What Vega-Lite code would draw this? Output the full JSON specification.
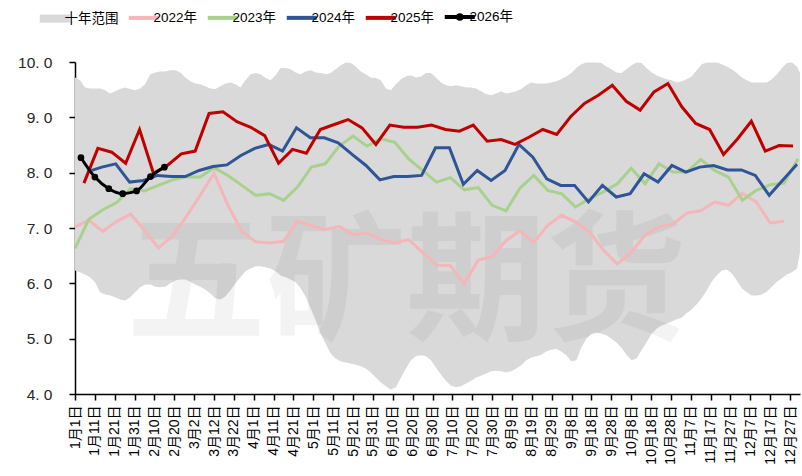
{
"$schema": "https://vega.github.io/schema/vega-lite/v6.json",
"width": 725, "height": 332,
"autosize": {"type": "none"},
"padding": {"left": 75, "top": 62, "right": 2, "bottom": 82},
"background": "white",
"config": {
"view": {"stroke": null},
"axisX": {"title": null, "grid": false, "labelAngle": -90, "labelFont": "Liberation Sans, Noto Sans CJK SC, sans-serif", "labelFontSize": 14, "labelColor": "#000", "labelPadding": 5, "labelOverlap": false, "labelFlush": false, "labelBound": false, "domainColor": "#000", "domainWidth": 1.5, "tickColor": "#000", "tickWidth": 1.5, "tickSize": 6},
"axisY": {"title": null, "grid": false, "labelFont": "Liberation Sans, sans-serif", "labelFontSize": 15.5, "labelColor": "#262626", "labelPadding": 17, "labelFlush": false, "labelBound": false, "labelOverlap": false, "domainColor": "#000", "domainWidth": 1.5, "tickColor": "#000", "tickWidth": 1.5, "tickSize": 6}
},
"datasets": {
"band": [
{"d":1.0,"lo":6.23,"hi":9.72},{"d":3.5,"lo":6.20,"hi":9.67},{"d":6.0,"lo":6.16,"hi":9.54},{"d":8.6,"lo":6.11,"hi":9.52},{"d":11.1,"lo":6.02,"hi":9.52},{"d":13.6,"lo":5.84,"hi":9.52},{"d":16.1,"lo":5.80,"hi":9.49},{"d":18.7,"lo":5.78,"hi":9.43},{"d":21.2,"lo":5.75,"hi":9.47},{"d":23.7,"lo":5.71,"hi":9.51},{"d":26.2,"lo":5.69,"hi":9.54},{"d":28.8,"lo":5.75,"hi":9.51},{"d":31.3,"lo":5.84,"hi":9.49},{"d":33.8,"lo":5.93,"hi":9.52},{"d":36.3,"lo":5.98,"hi":9.60},{"d":38.9,"lo":5.98,"hi":9.78},{"d":41.4,"lo":5.94,"hi":9.81},{"d":43.9,"lo":5.93,"hi":9.83},{"d":46.4,"lo":5.94,"hi":9.83},{"d":49.0,"lo":6.00,"hi":9.85},{"d":51.5,"lo":6.05,"hi":9.85},{"d":54.0,"lo":6.07,"hi":9.81},{"d":56.5,"lo":6.07,"hi":9.72},{"d":59.1,"lo":6.03,"hi":9.65},{"d":61.6,"lo":5.98,"hi":9.61},{"d":64.1,"lo":5.94,"hi":9.60},{"d":66.6,"lo":5.89,"hi":9.56},{"d":69.1,"lo":5.82,"hi":9.52},{"d":71.7,"lo":5.73,"hi":9.51},{"d":74.2,"lo":5.71,"hi":9.56},{"d":76.7,"lo":5.76,"hi":9.61},{"d":79.2,"lo":5.87,"hi":9.63},{"d":81.8,"lo":6.00,"hi":9.60},{"d":84.3,"lo":6.11,"hi":9.54},{"d":86.8,"lo":6.22,"hi":9.67},{"d":89.3,"lo":6.27,"hi":9.78},{"d":91.9,"lo":6.31,"hi":9.80},{"d":94.4,"lo":6.31,"hi":9.78},{"d":96.9,"lo":6.29,"hi":9.71},{"d":99.4,"lo":6.27,"hi":9.67},{"d":102.0,"lo":6.22,"hi":9.76},{"d":104.5,"lo":6.14,"hi":9.89},{"d":107.0,"lo":6.11,"hi":9.89},{"d":109.5,"lo":6.07,"hi":9.87},{"d":112.1,"lo":6.02,"hi":9.81},{"d":114.6,"lo":5.91,"hi":9.78},{"d":117.1,"lo":5.76,"hi":9.83},{"d":119.6,"lo":5.55,"hi":9.85},{"d":122.2,"lo":5.33,"hi":9.81},{"d":124.7,"lo":5.09,"hi":9.80},{"d":127.2,"lo":4.91,"hi":9.78},{"d":129.7,"lo":4.73,"hi":9.80},{"d":132.2,"lo":4.64,"hi":9.87},{"d":134.8,"lo":4.59,"hi":9.94},{"d":137.3,"lo":4.57,"hi":9.99},{"d":139.8,"lo":4.55,"hi":9.98},{"d":142.3,"lo":4.53,"hi":9.92},{"d":144.9,"lo":4.50,"hi":9.83},{"d":147.4,"lo":4.46,"hi":9.78},{"d":149.9,"lo":4.39,"hi":9.72},{"d":152.4,"lo":4.30,"hi":9.71},{"d":155.0,"lo":4.21,"hi":9.67},{"d":157.5,"lo":4.14,"hi":9.52},{"d":160.0,"lo":4.08,"hi":9.49},{"d":162.5,"lo":4.12,"hi":9.60},{"d":165.1,"lo":4.30,"hi":9.69},{"d":167.6,"lo":4.46,"hi":9.74},{"d":170.1,"lo":4.61,"hi":9.76},{"d":172.6,"lo":4.68,"hi":9.72},{"d":175.2,"lo":4.70,"hi":9.74},{"d":177.7,"lo":4.68,"hi":9.80},{"d":180.2,"lo":4.61,"hi":9.80},{"d":182.7,"lo":4.48,"hi":9.72},{"d":185.3,"lo":4.35,"hi":9.63},{"d":187.8,"lo":4.24,"hi":9.58},{"d":190.3,"lo":4.15,"hi":9.56},{"d":192.8,"lo":4.12,"hi":9.58},{"d":195.3,"lo":4.14,"hi":9.56},{"d":197.9,"lo":4.19,"hi":9.54},{"d":200.4,"lo":4.24,"hi":9.54},{"d":202.9,"lo":4.30,"hi":9.52},{"d":205.4,"lo":4.33,"hi":9.47},{"d":208.0,"lo":4.37,"hi":9.42},{"d":210.5,"lo":4.41,"hi":9.40},{"d":213.0,"lo":4.42,"hi":9.43},{"d":215.5,"lo":4.41,"hi":9.47},{"d":218.1,"lo":4.39,"hi":9.43},{"d":220.6,"lo":4.41,"hi":9.45},{"d":223.1,"lo":4.46,"hi":9.47},{"d":225.6,"lo":4.52,"hi":9.51},{"d":228.2,"lo":4.61,"hi":9.58},{"d":230.7,"lo":4.66,"hi":9.63},{"d":233.2,"lo":4.68,"hi":9.61},{"d":235.7,"lo":4.71,"hi":9.61},{"d":238.3,"lo":4.77,"hi":9.61},{"d":240.8,"lo":4.80,"hi":9.63},{"d":243.3,"lo":4.82,"hi":9.65},{"d":245.8,"lo":4.77,"hi":9.69},{"d":248.4,"lo":4.70,"hi":9.74},{"d":250.9,"lo":4.59,"hi":9.80},{"d":253.4,"lo":4.61,"hi":9.89},{"d":255.9,"lo":4.84,"hi":9.96},{"d":258.4,"lo":5.00,"hi":9.99},{"d":261.0,"lo":5.09,"hi":9.99},{"d":263.5,"lo":5.11,"hi":9.99},{"d":266.0,"lo":5.09,"hi":9.98},{"d":268.5,"lo":5.06,"hi":9.92},{"d":271.1,"lo":5.00,"hi":9.87},{"d":273.6,"lo":4.93,"hi":9.81},{"d":276.1,"lo":4.84,"hi":9.80},{"d":278.6,"lo":4.71,"hi":9.87},{"d":281.2,"lo":4.61,"hi":9.94},{"d":283.7,"lo":4.64,"hi":9.99},{"d":286.2,"lo":4.79,"hi":9.98},{"d":288.7,"lo":4.93,"hi":9.89},{"d":291.3,"lo":5.09,"hi":9.81},{"d":293.8,"lo":5.18,"hi":9.76},{"d":296.3,"lo":5.24,"hi":9.72},{"d":298.8,"lo":5.27,"hi":9.69},{"d":301.4,"lo":5.31,"hi":9.67},{"d":303.9,"lo":5.35,"hi":9.63},{"d":306.4,"lo":5.38,"hi":9.65},{"d":308.9,"lo":5.46,"hi":9.69},{"d":311.5,"lo":5.53,"hi":9.74},{"d":314.0,"lo":5.62,"hi":9.85},{"d":316.5,"lo":5.73,"hi":9.96},{"d":319.0,"lo":5.87,"hi":9.99},{"d":321.5,"lo":6.03,"hi":9.99},{"d":324.1,"lo":6.14,"hi":9.99},{"d":326.6,"lo":6.23,"hi":9.96},{"d":329.1,"lo":6.25,"hi":9.92},{"d":331.6,"lo":6.18,"hi":9.87},{"d":334.2,"lo":6.05,"hi":9.80},{"d":336.7,"lo":5.91,"hi":9.72},{"d":339.2,"lo":5.84,"hi":9.67},{"d":341.7,"lo":5.78,"hi":9.63},{"d":344.3,"lo":5.78,"hi":9.63},{"d":346.8,"lo":5.80,"hi":9.63},{"d":349.3,"lo":5.85,"hi":9.63},{"d":351.8,"lo":5.94,"hi":9.69},{"d":354.4,"lo":6.03,"hi":9.78},{"d":356.9,"lo":6.09,"hi":9.89},{"d":359.4,"lo":6.16,"hi":9.98},{"d":361.9,"lo":6.20,"hi":9.99},{"d":364.5,"lo":6.27,"hi":9.92},{"d":366.0,"lo":6.56,"hi":9.80}
],
"lines": [
{"s":"2022年","d":1,"v":7.02},{"s":"2022年","d":8,"v":7.14},{"s":"2022年","d":15,"v":6.94},{"s":"2022年","d":22,"v":7.12},{"s":"2022年","d":29,"v":7.25},{"s":"2022年","d":36,"v":6.96},{"s":"2022年","d":43,"v":6.64},{"s":"2022年","d":50,"v":6.85},{"s":"2022年","d":57,"v":7.20},{"s":"2022年","d":64,"v":7.59},{"s":"2022年","d":71,"v":7.99},{"s":"2022年","d":78,"v":7.41},{"s":"2022年","d":85,"v":6.94},{"s":"2022年","d":92,"v":6.75},{"s":"2022年","d":99,"v":6.73},{"s":"2022年","d":106,"v":6.76},{"s":"2022年","d":113,"v":7.12},{"s":"2022年","d":120,"v":7.04},{"s":"2022年","d":127,"v":6.97},{"s":"2022年","d":134,"v":7.03},{"s":"2022年","d":141,"v":6.88},{"s":"2022年","d":148,"v":6.91},{"s":"2022年","d":155,"v":6.79},{"s":"2022年","d":162,"v":6.73},{"s":"2022年","d":169,"v":6.79},{"s":"2022年","d":176,"v":6.56},{"s":"2022年","d":183,"v":6.33},{"s":"2022年","d":190,"v":6.32},{"s":"2022年","d":197,"v":5.99},{"s":"2022年","d":204,"v":6.42},{"s":"2022年","d":211,"v":6.48},{"s":"2022年","d":218,"v":6.77},{"s":"2022年","d":225,"v":6.95},{"s":"2022年","d":232,"v":6.74},{"s":"2022年","d":239,"v":7.05},{"s":"2022年","d":246,"v":7.23},{"s":"2022年","d":253,"v":7.11},{"s":"2022年","d":260,"v":6.93},{"s":"2022年","d":267,"v":6.60},{"s":"2022年","d":274,"v":6.35},{"s":"2022年","d":281,"v":6.56},{"s":"2022年","d":288,"v":6.87},{"s":"2022年","d":295,"v":7.02},{"s":"2022年","d":302,"v":7.07},{"s":"2022年","d":309,"v":7.27},{"s":"2022年","d":316,"v":7.31},{"s":"2022年","d":323,"v":7.47},{"s":"2022年","d":330,"v":7.41},{"s":"2022年","d":337,"v":7.63},{"s":"2022年","d":344,"v":7.47},{"s":"2022年","d":351,"v":7.09},{"s":"2022年","d":358,"v":7.12},
{"s":"2023年","d":1,"v":6.63},{"s":"2023年","d":8,"v":7.16},{"s":"2023年","d":15,"v":7.33},{"s":"2023年","d":22,"v":7.46},{"s":"2023年","d":29,"v":7.71},{"s":"2023年","d":36,"v":7.67},{"s":"2023年","d":43,"v":7.77},{"s":"2023年","d":50,"v":7.87},{"s":"2023年","d":57,"v":7.92},{"s":"2023年","d":64,"v":7.92},{"s":"2023年","d":71,"v":8.09},{"s":"2023年","d":78,"v":7.95},{"s":"2023年","d":85,"v":7.77},{"s":"2023年","d":92,"v":7.59},{"s":"2023年","d":99,"v":7.62},{"s":"2023年","d":106,"v":7.50},{"s":"2023年","d":113,"v":7.74},{"s":"2023年","d":120,"v":8.10},{"s":"2023年","d":127,"v":8.16},{"s":"2023年","d":134,"v":8.48},{"s":"2023年","d":141,"v":8.66},{"s":"2023年","d":148,"v":8.48},{"s":"2023年","d":155,"v":8.61},{"s":"2023年","d":162,"v":8.55},{"s":"2023年","d":169,"v":8.25},{"s":"2023年","d":176,"v":8.04},{"s":"2023年","d":183,"v":7.83},{"s":"2023年","d":190,"v":7.91},{"s":"2023年","d":197,"v":7.69},{"s":"2023年","d":204,"v":7.73},{"s":"2023年","d":211,"v":7.41},{"s":"2023年","d":218,"v":7.31},{"s":"2023年","d":225,"v":7.72},{"s":"2023年","d":232,"v":7.95},{"s":"2023年","d":239,"v":7.68},{"s":"2023年","d":246,"v":7.62},{"s":"2023年","d":253,"v":7.38},{"s":"2023年","d":260,"v":7.53},{"s":"2023年","d":267,"v":7.65},{"s":"2023年","d":274,"v":7.80},{"s":"2023年","d":281,"v":8.08},{"s":"2023年","d":288,"v":7.80},{"s":"2023年","d":295,"v":8.16},{"s":"2023年","d":302,"v":8.01},{"s":"2023年","d":309,"v":8.01},{"s":"2023年","d":316,"v":8.24},{"s":"2023年","d":323,"v":8.04},{"s":"2023年","d":330,"v":7.92},{"s":"2023年","d":337,"v":7.50},{"s":"2023年","d":344,"v":7.68},{"s":"2023年","d":351,"v":7.78},{"s":"2023年","d":358,"v":7.81},{"s":"2023年","d":365,"v":8.25},
{"s":"2024年","d":7.5,"v":8.02},{"s":"2024年","d":14.5,"v":8.10},{"s":"2024年","d":21.5,"v":8.16},{"s":"2024年","d":28.5,"v":7.83},{"s":"2024年","d":35.5,"v":7.86},{"s":"2024年","d":42.5,"v":7.95},{"s":"2024年","d":49.5,"v":7.93},{"s":"2024年","d":56.5,"v":7.93},{"s":"2024年","d":63.5,"v":8.04},{"s":"2024年","d":70.5,"v":8.11},{"s":"2024年","d":77.5,"v":8.14},{"s":"2024年","d":84.5,"v":8.31},{"s":"2024年","d":91.5,"v":8.44},{"s":"2024年","d":98.5,"v":8.51},{"s":"2024年","d":105.5,"v":8.39},{"s":"2024年","d":112.5,"v":8.81},{"s":"2024年","d":119.5,"v":8.63},{"s":"2024年","d":126.5,"v":8.63},{"s":"2024年","d":133.5,"v":8.54},{"s":"2024年","d":140.5,"v":8.33},{"s":"2024年","d":147.5,"v":8.13},{"s":"2024年","d":154.5,"v":7.87},{"s":"2024年","d":161.5,"v":7.93},{"s":"2024年","d":168.5,"v":7.93},{"s":"2024年","d":175.5,"v":7.95},{"s":"2024年","d":182.5,"v":8.45},{"s":"2024年","d":189.5,"v":8.45},{"s":"2024年","d":196.5,"v":7.79},{"s":"2024年","d":203.5,"v":8.04},{"s":"2024年","d":210.5,"v":7.86},{"s":"2024年","d":217.5,"v":8.04},{"s":"2024年","d":224.5,"v":8.51},{"s":"2024年","d":231.5,"v":8.28},{"s":"2024年","d":238.5,"v":7.89},{"s":"2024年","d":245.5,"v":7.77},{"s":"2024年","d":252.5,"v":7.77},{"s":"2024年","d":259.5,"v":7.47},{"s":"2024年","d":266.5,"v":7.77},{"s":"2024年","d":273.5,"v":7.56},{"s":"2024年","d":280.5,"v":7.62},{"s":"2024年","d":287.5,"v":7.98},{"s":"2024年","d":294.5,"v":7.83},{"s":"2024年","d":301.5,"v":8.13},{"s":"2024年","d":308.5,"v":8.01},{"s":"2024年","d":315.5,"v":8.10},{"s":"2024年","d":322.5,"v":8.13},{"s":"2024年","d":329.5,"v":8.05},{"s":"2024年","d":336.5,"v":8.05},{"s":"2024年","d":343.5,"v":7.95},{"s":"2024年","d":350.5,"v":7.59},{"s":"2024年","d":357.5,"v":7.87},{"s":"2024年","d":364.5,"v":8.15},
{"s":"2025年","d":5.5,"v":7.81},{"s":"2025年","d":12.5,"v":8.44},{"s":"2025年","d":19.5,"v":8.37},{"s":"2025年","d":26.5,"v":8.17},{"s":"2025年","d":33.5,"v":8.78},{"s":"2025年","d":40.5,"v":7.99},{"s":"2025年","d":47.5,"v":8.13},{"s":"2025年","d":54.5,"v":8.34},{"s":"2025年","d":61.5,"v":8.39},{"s":"2025年","d":68.5,"v":9.07},{"s":"2025年","d":75.5,"v":9.10},{"s":"2025年","d":82.5,"v":8.92},{"s":"2025年","d":89.5,"v":8.82},{"s":"2025年","d":96.5,"v":8.67},{"s":"2025年","d":103.5,"v":8.17},{"s":"2025年","d":110.5,"v":8.42},{"s":"2025年","d":117.5,"v":8.35},{"s":"2025年","d":124.5,"v":8.78},{"s":"2025年","d":131.5,"v":8.87},{"s":"2025年","d":138.5,"v":8.96},{"s":"2025年","d":145.5,"v":8.81},{"s":"2025年","d":152.5,"v":8.51},{"s":"2025年","d":159.5,"v":8.86},{"s":"2025年","d":166.5,"v":8.82},{"s":"2025年","d":173.5,"v":8.82},{"s":"2025年","d":180.5,"v":8.86},{"s":"2025年","d":187.5,"v":8.78},{"s":"2025年","d":194.5,"v":8.75},{"s":"2025年","d":201.5,"v":8.86},{"s":"2025年","d":208.5,"v":8.57},{"s":"2025年","d":215.5,"v":8.60},{"s":"2025年","d":222.5,"v":8.51},{"s":"2025年","d":229.5,"v":8.64},{"s":"2025年","d":236.5,"v":8.78},{"s":"2025年","d":243.5,"v":8.69},{"s":"2025年","d":250.5,"v":9.01},{"s":"2025年","d":257.5,"v":9.25},{"s":"2025年","d":264.5,"v":9.40},{"s":"2025年","d":271.5,"v":9.58},{"s":"2025年","d":278.5,"v":9.29},{"s":"2025年","d":285.5,"v":9.13},{"s":"2025年","d":292.5,"v":9.46},{"s":"2025年","d":299.5,"v":9.61},{"s":"2025年","d":306.5,"v":9.19},{"s":"2025年","d":313.5,"v":8.89},{"s":"2025年","d":320.5,"v":8.78},{"s":"2025年","d":327.5,"v":8.33},{"s":"2025年","d":334.5,"v":8.61},{"s":"2025年","d":341.5,"v":8.93},{"s":"2025年","d":348.5,"v":8.39},{"s":"2025年","d":355.5,"v":8.49},{"s":"2025年","d":362.5,"v":8.48},
{"s":"2026年","d":4,"v":8.27},{"s":"2026年","d":11,"v":7.92},{"s":"2026年","d":18,"v":7.71},{"s":"2026年","d":25,"v":7.62},{"s":"2026年","d":32,"v":7.67},{"s":"2026年","d":39,"v":7.93},{"s":"2026年","d":46,"v":8.10}
]
},
"layer": [
{
"data": {"name": "band"},
"mark": {"type": "area"},
"encoding": {
"x": {"field": "d", "type": "quantitative", "scale": {"domain": [1, 366], "nice": false, "zero": false},
"axis": {"values": [1,11,21,31,41,51,61,71,81,91,101,111,121,131,141,151,161,171,181,191,201,211,221,231,241,251,261,271,281,291,301,311,321,331,341,351,361], "labelExpr": "timeFormat(datetime(2021, 0, datum.value), '%-m月%-d日')", "labelOverlap": false}},
"y": {"field": "hi", "type": "quantitative", "scale": {"domain": [4, 10], "nice": false, "zero": false},
"axis": {"values": [4,5,6,7,8,9,10], "labelExpr": "replace(format(datum.value, '.1f'), '.', '. ')", "labelOverlap": false}},
"y2": {"field": "lo"},
"color": {"datum": "十年范围", "type": "nominal", "title": null,
"scale": {"domain": ["十年范围","2022年","2023年","2024年","2025年","2026年"], "range": ["#d9d9d9","#f4b6b9","#a9d18e","#2f5597","#c00000","#000000"]},
"legend": {"orient": "none", "legendX": -27, "legendY": -52, "direction": "horizontal", "title": null,
"labelFont": "Liberation Sans, Noto Sans CJK SC, sans-serif", "labelFontSize": 13.5, "labelColor": "#000",
"symbolSize": 900, "labelOffset": 3, "columnPadding": 1,
"encode": {"symbols": {"update": {
"shape": {"signal": "datum.value === '十年范围' ? 'M-1,-0.27H1V0.27H-1Z' : (datum.value === '2026年' ? 'M-1,0H1M0.12,0A0.12,0.12,0,1,1,-0.12,0A0.12,0.12,0,1,1,0.12,0Z' : 'M-1,0H1')"},
"fill": {"signal": "scale('color', datum.value)"},
"stroke": {"signal": "scale('color', datum.value)"},
"strokeWidth": {"signal": "datum.value === '十年范围' ? 0 : 4"},
"opacity": {"value": 1}, "fillOpacity": {"value": 1}, "strokeOpacity": {"value": 1}}}}}
}
}
},
{
"data": {"values": [{}]},
"mark": {"type": "text", "text": "五矿期货", "font": "Noto Sans CJK SC", "fontWeight": "bold", "fontSize": 140, "fill": "#000", "opacity": 0.045, "align": "center", "baseline": "middle"},
"encoding": {
"x": {"datum": 167.7, "type": "quantitative", "axis": {"values": [1,11,21,31,41,51,61,71,81,91,101,111,121,131,141,151,161,171,181,191,201,211,221,231,241,251,261,271,281,291,301,311,321,331,341,351,361], "labelExpr": "timeFormat(datetime(2021, 0, datum.value), '%-m月%-d日')", "labelOverlap": false}},
"y": {"datum": 5.93, "type": "quantitative", "axis": {"values": [4,5,6,7,8,9,10], "labelExpr": "replace(format(datum.value, '.1f'), '.', '. ')", "labelOverlap": false}}}
},
{
"data": {"name": "lines"},
"transform": [{"filter": "datum.s !== '2026年'"}],
"mark": {"type": "line", "strokeWidth": 3},
"encoding": {
"x": {"field": "d", "type": "quantitative", "axis": {"values": [1,11,21,31,41,51,61,71,81,91,101,111,121,131,141,151,161,171,181,191,201,211,221,231,241,251,261,271,281,291,301,311,321,331,341,351,361], "labelExpr": "timeFormat(datetime(2021, 0, datum.value), '%-m月%-d日')", "labelOverlap": false}},
"y": {"field": "v", "type": "quantitative", "axis": {"values": [4,5,6,7,8,9,10], "labelExpr": "replace(format(datum.value, '.1f'), '.', '. ')", "labelOverlap": false}},
"color": {"field": "s", "type": "nominal", "title": null}
}
},
{
"data": {"name": "lines"},
"transform": [{"filter": "datum.s === '2026年'"}],
"mark": {"type": "line", "strokeWidth": 3, "interpolate": "monotone", "point": {"filled": true, "size": 45, "color": "#000"}},
"encoding": {
"x": {"field": "d", "type": "quantitative", "axis": {"values": [1,11,21,31,41,51,61,71,81,91,101,111,121,131,141,151,161,171,181,191,201,211,221,231,241,251,261,271,281,291,301,311,321,331,341,351,361], "labelExpr": "timeFormat(datetime(2021, 0, datum.value), '%-m月%-d日')", "labelOverlap": false}},
"y": {"field": "v", "type": "quantitative", "axis": {"values": [4,5,6,7,8,9,10], "labelExpr": "replace(format(datum.value, '.1f'), '.', '. ')", "labelOverlap": false}},
"color": {"field": "s", "type": "nominal", "title": null}
}
}
]
}
